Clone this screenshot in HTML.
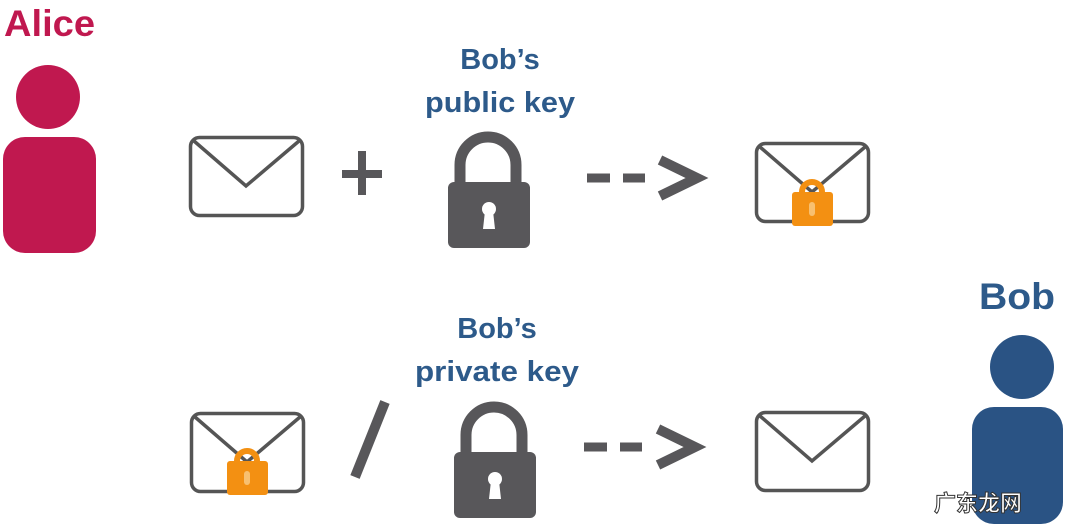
<!DOCTYPE html>
<html><head><meta charset="utf-8"><style>
html,body{margin:0;padding:0;background:#fff;width:1080px;height:531px;overflow:hidden}
svg{display:block}
text{font-family:"Liberation Sans","Noto Sans CJK SC",sans-serif;font-weight:bold}
</style></head><body>
<svg width="1080" height="531" viewBox="0 0 1080 531" xmlns="http://www.w3.org/2000/svg">
<defs>
<g id="env"><rect x="1.5" y="1.5" width="112" height="78" rx="9" fill="#fff" stroke="#555" stroke-width="3.5"/><path d="M5 5 L57 50 L110 5" fill="none" stroke="#555" stroke-width="3.5"/></g>
<g id="lock"><path d="M12 50 V32 A28 28 0 0 1 68 32 V50" fill="none" stroke="#58575a" stroke-width="11"/><rect x="0" y="49" width="82" height="66" rx="6" fill="#58575a"/><circle cx="41" cy="76" r="7" fill="#fff"/><path d="M37 78 L35 96 H47 L45 78Z" fill="#fff"/></g>
<g id="olock"><circle cx="20" cy="14" r="10" fill="none" stroke="#f39012" stroke-width="6"/><rect x="0" y="14" width="41" height="34" rx="3" fill="#f39012"/><rect x="17" y="24" width="6" height="14" rx="3" fill="#f8c070"/></g>
</defs>
<text x="4" y="36" font-size="37" fill="#c0184f" textLength="91" lengthAdjust="spacingAndGlyphs">Alice</text>
<circle cx="48" cy="97" r="32" fill="#c0184f"/>
<rect x="3" y="137" width="93" height="116" rx="22" fill="#c0184f"/>

<use href="#env" x="189" y="136"/>
<path d="M342 174 H382 M362 151 V195" stroke="#58575a" stroke-width="8"/>
<text x="500" y="69" font-size="29" fill="#2d5a8a" text-anchor="middle">Bob’s</text>
<text x="500" y="112" font-size="29" fill="#2d5a8a" text-anchor="middle" textLength="150" lengthAdjust="spacingAndGlyphs">public key</text>
<use href="#lock" x="448" y="133"/>
<path d="M587 178 H610 M623 178 H645" stroke="#58575a" stroke-width="9"/>
<path d="M660 160 L697 178 L660 196" fill="none" stroke="#58575a" stroke-width="10"/>
<use href="#env" x="755" y="142"/>
<use href="#olock" x="792" y="178"/>

<text x="497" y="338" font-size="29" fill="#2d5a8a" text-anchor="middle">Bob’s</text>
<text x="497" y="381" font-size="29" fill="#2d5a8a" text-anchor="middle" textLength="164" lengthAdjust="spacingAndGlyphs">private key</text>
<use href="#env" x="190" y="412"/>
<use href="#olock" x="227" y="447"/>
<path d="M385 402 L355 477" stroke="#58575a" stroke-width="10"/>
<use href="#lock" x="454" y="403"/>
<path d="M584 447 H607 M620 447 H642" stroke="#58575a" stroke-width="9"/>
<path d="M658 429 L695 447 L658 465" fill="none" stroke="#58575a" stroke-width="10"/>
<use href="#env" x="755" y="411"/>

<text x="979" y="309" font-size="37" fill="#2d5a8a" textLength="76" lengthAdjust="spacingAndGlyphs">Bob</text>
<circle cx="1022" cy="367" r="32" fill="#2a5384"/>
<rect x="972" y="407" width="91" height="117" rx="22" fill="#2a5384"/>
<text x="934" y="511" font-size="22" fill="#fff" stroke="#333" stroke-width="1">广东龙网</text>
</svg>
</body></html>
